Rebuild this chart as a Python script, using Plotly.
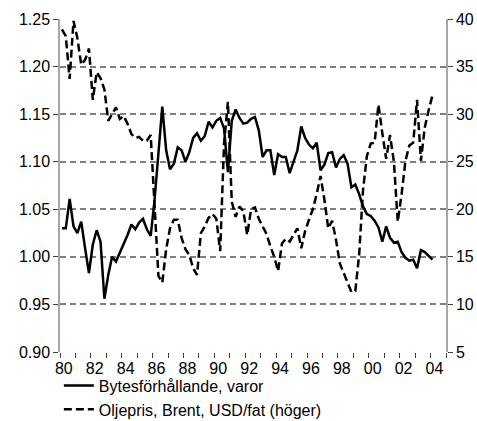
import plotly.graph_objects as go

start_year = 1980
terms_of_trade = [
    1.030, 1.030, 1.061, 1.032, 1.025, 1.037, 1.009, 0.983, 1.013, 1.028,
    1.016, 0.956, 0.981, 1.000, 0.995, 1.004, 1.013, 1.023, 1.034, 1.029,
    1.036, 1.040, 1.029, 1.022, 1.060, 1.110, 1.158, 1.112, 1.092, 1.098,
    1.115, 1.112, 1.100, 1.110, 1.125, 1.130, 1.122, 1.127, 1.142, 1.136,
    1.143, 1.146, 1.135, 1.089, 1.143, 1.155, 1.146, 1.140, 1.141, 1.145,
    1.147, 1.133, 1.105, 1.112, 1.112, 1.086, 1.108, 1.105, 1.105, 1.088,
    1.099, 1.112, 1.137, 1.125, 1.118, 1.114, 1.120, 1.091, 1.097, 1.109,
    1.110, 1.094, 1.103, 1.107, 1.098, 1.073, 1.076, 1.066, 1.053, 1.045,
    1.043, 1.038, 1.031, 1.016, 1.032, 1.020, 1.015, 1.016, 1.005, 0.999,
    0.996, 0.997, 0.988, 1.007, 1.005, 1.001, 0.997,
]
oil_brent = [
    38.9, 38.2, 33.7, 39.8, 38.0, 35.2, 35.7, 36.9, 31.5, 34.4,
    33.8, 32.6, 29.3, 30.0, 30.7, 29.5, 29.8, 29.0, 27.9, 27.5,
    27.6, 27.2, 27.2, 27.8, 20.5, 13.0, 12.3, 15.8, 18.0, 18.9,
    18.9, 17.0, 15.8, 15.2, 13.8, 13.1, 17.5, 18.2, 19.1, 19.5,
    19.0, 15.6, 26.9, 31.3, 20.8, 19.2, 20.3, 19.8, 17.3, 20.0,
    20.2, 19.0, 18.2, 17.4, 16.1, 15.0, 13.5, 16.4, 16.9, 16.6,
    17.3, 18.0, 15.9, 17.7, 18.9, 20.0, 21.6, 23.5, 21.0, 18.0,
    18.8, 16.8, 14.3, 13.2, 12.3, 11.3, 11.4, 15.2, 22.0, 25.6,
    26.9, 27.0, 31.0, 28.0, 25.3, 27.8, 25.0, 18.7, 21.6, 25.1,
    26.7, 27.0, 31.5, 25.1, 28.6, 30.4, 32.0,
]
label_years = list(range(1980, 2005, 2))
tick_labels = [f"{y % 100:02d}" for y in label_years]

x_vals = [start_year + (i + 0.5) / 4 for i in range(len(terms_of_trade))]

FONT = "Liberation Sans, Arial, sans-serif"
GRID = "#808080"
AXIS = "#A6A6A6"
FS = 16

fig = go.Figure()
fig.add_trace(go.Scatter(
    x=x_vals, y=terms_of_trade, mode="lines",
    name="Bytesförhållande, varor",
    line=dict(color="black", width=2.5),
))
fig.add_trace(go.Scatter(
    x=x_vals, y=oil_brent, mode="lines", yaxis="y2",
    name="Oljepris, Brent, USD/fat (höger)",
    line=dict(color="black", width=2.5, dash="8px,4px"),
))

fig.update_layout(
    width=477, height=421,
    margin=dict(l=60, r=31, t=19, b=69, autoexpand=False),
    paper_bgcolor="white", plot_bgcolor="white",
    font=dict(family=FONT, size=FS, color="black"),
    showlegend=True,
    legend=dict(
        x=-0.003, y=-0.05, xanchor="left", yanchor="top",
        orientation="v", bgcolor="rgba(0,0,0,0)",
        font=dict(family=FONT, size=FS, color="black"),
        tracegroupgap=0, itemwidth=30,
    ),
    xaxis=dict(
        range=[1980, 2005],
        tickmode="array",
        tickvals=[y + 0.25 for y in label_years],
        ticktext=tick_labels,
        ticks="outside", ticklen=2, tickcolor="rgba(0,0,0,0)",
        showgrid=False, zeroline=False, showline=False,
        minor=dict(tickmode="array", tickvals=list(range(1980, 2006)),
                   ticks="outside", ticklen=5, tickcolor="#404040",
                   tickwidth=1, showgrid=False),
        tickfont=dict(size=FS),
    ),
    yaxis=dict(
        range=[0.90, 1.25], dtick=0.05, tick0=0.90, tickformat=".2f",
        showgrid=True, gridcolor=GRID, gridwidth=1.5, griddash="6px,4px",
        zeroline=False, showline=True, linecolor=AXIS, linewidth=1.5,
        ticks="outside", ticklen=5, tickcolor="#404040", tickwidth=1,
        tickfont=dict(size=FS),
    ),
    yaxis2=dict(
        range=[5, 40], dtick=5, tick0=5, overlaying="y", side="right",
        showgrid=False, zeroline=False, showline=True, linecolor=AXIS,
        linewidth=1.5, ticks="outside", ticklen=5, tickcolor="#404040",
        tickwidth=1, tickfont=dict(size=FS),
    ),
)

fig.write_html(
    "out.html",
    config={"displayModeBar": False},
    post_script="document.body.style.margin='0';document.body.style.padding='0';",
)
